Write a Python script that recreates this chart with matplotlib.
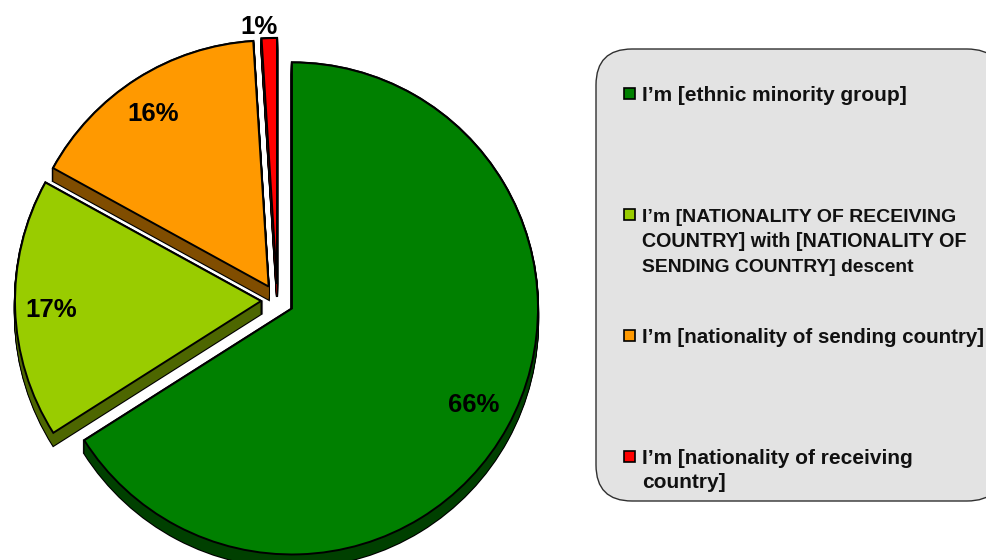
import matplotlib
matplotlib.use("Agg")
import matplotlib.pyplot as plt
from matplotlib.patches import FancyBboxPatch, Rectangle

W, H = 987, 560

# Survey shares, clockwise from twelve o'clock
shares = [66, 17, 16, 1]
top_colors = ["#008000", "#99CC00", "#FF9900", "#FF0000"]
side_colors = ["#004000", "#4D6600", "#804D00", "#800000"]
share_label_xy = [(474, 405), (51, 310), (153, 114), (259, 27)]

legend_lines = [
    ["I\u2019m [ethnic minority group]"],
    ["I\u2019m [NATIONALITY OF RECEIVING",
     "COUNTRY] with [NATIONALITY OF",
     "SENDING COUNTRY] descent"],
    ["I\u2019m [nationality of sending country]"],
    ["I\u2019m [nationality of receiving", "country]"],
]
legend_baselines = [[101], [222, 247, 272], [343], [464, 488]]
legend_sizes = [[15], [14, 14.2, 13.9], [14.8], [15, 15]]

PIE_X, PIE_Y = 277.5, 300.5
RADIUS = 246
EXPLODE = 16.5
DEPTH = 13


def flip(y):
    return H - y


fig = plt.figure(figsize=(W / 100, H / 100), dpi=100, facecolor="white")
ax = fig.add_axes([0, 0, 1, 1])
explode = [EXPLODE] * len(shares)


def draw_layer(offset, colors, edge, lw, zorder):
    wedges, _ = ax.pie(
        shares, colors=colors, explode=explode, radius=RADIUS,
        center=(PIE_X, flip(PIE_Y + offset)), startangle=90, counterclock=False,
        wedgeprops=dict(edgecolor=edge, linewidth=lw, joinstyle="miter"),
    )
    for w in wedges:
        w.set_zorder(zorder)


# Extruded rim: a black silhouette first, then the darker side faces, then the lid
for k in range(DEPTH, -1, -1):
    draw_layer(k, ["black"] * 4, "black", 1.6, 2)
for k in range(DEPTH, -1, -1):
    draw_layer(k, side_colors, "none", 0, 3)
draw_layer(0, top_colors, "black", 1.4, 4)

for value, (x, y) in zip(shares, share_label_xy):
    ax.text(x, flip(y), f"{value}%", ha="center", va="center", zorder=6,
            family="Liberation Sans", weight="bold", fontsize=18.5, color="black")

# Legend panel, running off the right edge of the figure
panel = FancyBboxPatch((596, flip(501)), 407, 452,
                       boxstyle="round,pad=0,rounding_size=36",
                       facecolor="#E3E3E3", edgecolor="#303030", linewidth=1.0, zorder=1)
ax.add_patch(panel)

for color, lines, baselines, sizes in zip(top_colors, legend_lines, legend_baselines, legend_sizes):
    ax.add_patch(Rectangle((623.5, flip(baselines[0] - 2)), 11, 11, facecolor=color,
                           edgecolor="black", linewidth=1.2, zorder=5))
    for line, b, size in zip(lines, baselines, sizes):
        ax.text(642, flip(b), line, ha="left", va="baseline", zorder=6,
                family="Liberation Sans", weight="bold", fontsize=size, color="#111111")

ax.set_xlim(0, W)
ax.set_ylim(0, H)
ax.set_aspect("auto")
ax.axis("off")

fig.savefig("out.png", dpi=100, facecolor="white")
